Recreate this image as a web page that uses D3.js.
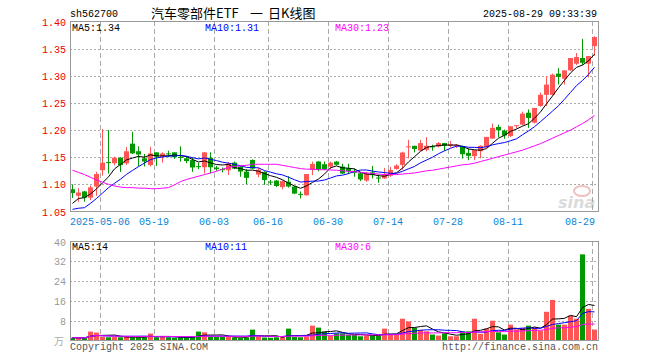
<!DOCTYPE html>
<html>
<head>
<meta charset="utf-8">
<script src="https://cdn.jsdelivr.net/npm/d3@7"></script>
<style>
body{margin:0;background:#fff;}
svg{display:block;}
text{font-family:"Liberation Mono","DejaVu Sans Mono",monospace;font-size:10px;}
</style>
</head>
<body>
<script>
//wrap everything in a self-executing function
(function(){

//trading days shown (88 sessions)
var dates = ["04-24","04-25","04-28","04-29","04-30",
    "05-06","05-07","05-08","05-09","05-12","05-13","05-14","05-15","05-16","05-19","05-20","05-21","05-22","05-23","05-26","05-27","05-28","05-29","05-30",
    "06-03","06-04","06-05","06-06","06-09","06-10","06-11","06-12","06-13","06-16","06-17","06-18","06-19","06-20","06-23","06-24","06-25","06-26","06-27","06-30",
    "07-01","07-02","07-03","07-04","07-07","07-08","07-09","07-10","07-11","07-14","07-15","07-16","07-17","07-18","07-21","07-22","07-23","07-24","07-25","07-28","07-29","07-30","07-31",
    "08-01","08-04","08-05","08-06","08-07","08-08","08-11","08-12","08-13","08-14","08-15","08-18","08-19","08-20","08-21","08-22","08-25","08-26","08-27","08-28","08-29"];

//daily prices
var opens = [1.091,1.079,1.087,1.0755,1.096,1.126,1.141,1.139,1.149,1.1386,1.175,1.161,1.148,1.1355,1.159,1.151,1.157,1.159,1.1505,1.148,1.1447,1.1335,1.1315,1.149,
    1.131,1.128,1.126,1.140,1.133,1.1235,1.145,1.118,1.123,1.105,1.107,1.095,1.105,1.096,1.0825,1.080,1.1265,1.142,1.137,1.1327,
    1.142,1.1327,1.1296,1.125,1.1204,1.107,1.122,1.1125,1.111,1.116,1.1285,1.1358,1.169,1.171,1.1623,1.1636,1.170,1.170,1.176,1.171,1.171,1.170,1.158,
    1.152,1.161,1.169,1.1843,1.2058,1.199,1.189,1.208,1.210,1.232,1.2137,1.2444,1.265,1.265,1.304,1.2947,1.31,1.3223,1.3327,1.3223,1.3547];
var highs = [1.100,1.093,1.088,1.098,1.123,1.202,1.200,1.151,1.150,1.169,1.197,1.170,1.156,1.169,1.159,1.159,1.162,1.159,1.170,1.152,1.150,1.140,1.159,1.159,
    1.134,1.131,1.141,1.142,1.134,1.128,1.146,1.131,1.124,1.108,1.108,1.107,1.115,1.097,1.087,1.119,1.142,1.143,1.142,1.142,
    1.143,1.138,1.138,1.129,1.123,1.123,1.134,1.118,1.130,1.132,1.137,1.160,1.182,1.171,1.182,1.187,1.173,1.178,1.176,1.180,1.174,1.171,1.166,
    1.163,1.172,1.1874,1.212,1.210,1.201,1.207,1.209,1.234,1.238,1.2407,1.269,1.299,1.304,1.314,1.31,1.3327,1.342,1.368,1.3363,1.373];
var lows = [1.075,1.068,1.068,1.071,1.079,1.116,1.120,1.135,1.123,1.136,1.156,1.133,1.133,1.133,1.134,1.140,1.150,1.147,1.142,1.139,1.123,1.128,1.120,1.120,
    1.125,1.122,1.117,1.128,1.114,1.100,1.128,1.113,1.099,1.099,1.095,1.091,1.094,1.082,1.074,1.079,1.117,1.124,1.126,1.128,
    1.135,1.119,1.119,1.114,1.106,1.105,1.111,1.103,1.110,1.114,1.127,1.127,1.148,1.159,1.162,1.161,1.162,1.168,1.162,1.168,1.167,1.1475,1.1445,
    1.1445,1.148,1.167,1.1843,1.187,1.184,1.187,1.203,1.209,1.204,1.212,1.243,1.244,1.264,1.284,1.284,1.309,1.320,1.320,1.297,1.337];
var closes = [1.084,1.085,1.0755,1.0945,1.119,1.140,1.140,1.149,1.1355,1.161,1.157,1.155,1.142,1.157,1.151,1.157,1.156,1.150,1.1495,1.143,1.131,1.133,1.159,1.1315,
    1.128,1.127,1.138,1.129,1.1235,1.112,1.129,1.127,1.108,1.104,1.097,1.106,1.096,1.083,1.082,1.119,1.1376,1.128,1.128,1.140,
    1.136,1.120,1.1247,1.1215,1.109,1.120,1.117,1.112,1.117,1.1265,1.1346,1.1586,1.170,1.165,1.176,1.171,1.169,1.176,1.171,1.174,1.173,1.1555,1.1525,
    1.163,1.171,1.1874,1.204,1.1997,1.190,1.207,1.209,1.2303,1.2223,1.2407,1.265,1.2837,1.302,1.298,1.31,1.3327,1.3345,1.324,1.3363,1.3713];
//closes before the first session (read back from where MA5/MA10 start)
var prevCloses = [1.065,1.0655,1.0145,1.029,1.041,1.040,1.068,1.0605,1.0725];
//30-day average
var ma30Values = [1.126,1.122,1.118,1.113,1.108,1.104,1.100,1.097,1.095,1.094,1.094,1.093,1.093,1.092,1.092,1.093,1.094,1.099,1.105,1.109,1.112,1.115,1.118,1.121,
    1.124,1.128,1.131,1.133,1.134,1.135,1.137,1.137,1.137,1.137,1.137,1.135,1.133,1.131,1.129,1.128,1.128,1.127,1.127,1.1265,
    1.126,1.125,1.124,1.1235,1.122,1.121,1.120,1.119,1.118,1.118,1.118,1.119,1.120,1.121,1.123,1.125,1.126,1.128,1.130,1.132,1.134,1.136,1.137,
    1.139,1.142,1.145,1.148,1.151,1.154,1.157,1.160,1.163,1.167,1.171,1.175,1.180,1.185,1.190,1.195,1.200,1.206,1.212,1.219,1.227];

//volume (10k lots)
var volumes = [1.1,1.1,1.0,3.6,3.2,1.5,1.3,1.4,1.3,1.5,1.3,1.3,1.3,2.8,1.3,1.5,1.3,1.1,1.3,1.3,1.3,3.6,3.3,1.5,
    1.4,1.5,1.5,1.3,1.1,1.2,4.4,1.6,1.2,1.1,1.3,1.3,4.8,1.4,1.3,1.6,6.0,5.2,3.5,1.9,
    2.9,2.9,2.3,2.3,1.7,2.0,2.0,2.0,4.8,2.3,2.3,8.8,7.7,5.1,4.3,3.7,2.4,2.0,2.9,1.7,1.7,3.7,3.7,
    8.8,2.7,4.8,8.0,3.3,2.4,6.4,4.5,5.1,6.0,5.3,4.0,11.6,16.4,6.4,6.4,10.0,8.8,34.8,12.8,4.4];

//axis ticks and labels
var priceTicks = [1.05,1.10,1.15,1.20,1.25,1.30,1.35,1.40];
var volTicks = [0,8,16,24,32,40];
var dateTicks = ["05-06","05-19","06-03","06-16","06-30","07-14","07-28","08-11","08-29"];
var priceLegend = ["MA5:1.34","MA10:1.31","MA30:1.23"];
var volLegend = ["MA5:14","MA10:11","MA30:6"];
var maColors = ["#000000","#0000ff","#ff00ff"];

var width = 660,
    height = 360,
    left = 70,
    right = 598;

var svg = d3.select("body")
    .append("svg")
    .attr("width", width)
    .attr("height", height);

//scales
var x = d3.scaleBand()
    .domain(dates)
    .range([left, right]);
var y = d3.scaleLinear()
    .domain([1.05, 1.40])
    .range([211.5, 21.5]);
var yv = d3.scaleLinear()
    .domain([0, 40])
    .range([340.5, 241.5]);

//moving average of a series, with earlier values prepended
function movingAvg(values, n, before){
    var all = before.concat(values);
    return values.map(function(v, i){
        var end = i + before.length + 1,
            start = Math.max(0, end - n),
            win = all.slice(start, end);
        return d3.mean(win);
    });
}
var ma5 = movingAvg(closes, 5, prevCloses),
    ma10 = movingAvg(closes, 10, prevCloses);
var vma5 = movingAvg(volumes, 5, []),
    vma10 = movingAvg(volumes, 10, []),
    vma30 = movingAvg(volumes, 30, []);

//header
svg.append("text").attr("x", 70).attr("y", 17).attr("fill", "#000").text("sh562700");
var cjk = "'Noto Sans CJK SC',sans-serif";
[["汽车零部件ETF", 151], ["一", 250], ["日K线图", 268]].forEach(function(t){
    svg.append("text").attr("x", t[1]).attr("y", 18)
        .style("font-family", cjk).style("font-size", "13px")
        .attr("fill", "#000").text(t[0]);
});
svg.append("text").attr("x", 597).attr("y", 17).attr("text-anchor", "end")
    .attr("fill", "#000").text("2025-08-29 09:33:39");

//grid for both panels
function hGrid(scale, ticks){
    svg.selectAll(null)
        .data(ticks.slice(1, -1))
        .enter()
        .append("line")
        .attr("x1", left).attr("x2", right)
        .attr("y1", function(d){ return Math.round(scale(d)) + 0.5; })
        .attr("y2", function(d){ return Math.round(scale(d)) + 0.5; })
        .attr("stroke", "#aaa")
        .attr("stroke-dasharray", "2,2");
}
hGrid(y, priceTicks);
hGrid(yv, volTicks);

[[21, 211], [241, 340]].forEach(function(r){
    svg.selectAll(null)
        .data(dateTicks)
        .enter()
        .append("line")
        .attr("x1", function(d){ return x(d) + 0.5; })
        .attr("x2", function(d){ return x(d) + 0.5; })
        .attr("y1", r[0]).attr("y2", r[1])
        .attr("stroke", "#aaa")
        .attr("stroke-dasharray", "5,3");
});

//watermark
var mark = svg.append("g").attr("opacity", 0.35);
mark.append("ellipse").attr("cx", 582).attr("cy", 191).attr("rx", 8).attr("ry", 5)
    .attr("fill", "none").attr("stroke", "#d05050").attr("stroke-width", 2);
mark.append("text").attr("x", 558).attr("y", 208)
    .style("font-family", "'DejaVu Sans',sans-serif").style("font-size", "16px")
    .style("font-weight", "bold").style("font-style", "italic")
    .attr("fill", "#999").text("sina");

//candles
var candles = svg.append("g");
dates.forEach(function(d, i){
    var up = closes[i] >= opens[i],
        col = up ? "#ff5555" : "#009a00",
        x0 = x(d);
    candles.append("rect")
        .attr("x", x0 + 2).attr("width", 1)
        .attr("y", y(highs[i])).attr("height", Math.max(1, y(lows[i]) - y(highs[i])))
        .attr("fill", col);
    var top = y(Math.max(opens[i], closes[i])),
        bot = y(Math.min(opens[i], closes[i]));
    candles.append("rect")
        .attr("x", x0).attr("width", 5)
        .attr("y", top).attr("height", Math.max(1, bot - top))
        .attr("fill", col);
});

//price moving averages
var line = d3.line()
    .x(function(d, i){ return x(dates[i]) + 2.5; })
    .y(function(d){ return y(d); });
[ma5, ma10, ma30Values].forEach(function(s, k){
    svg.append("path").datum(s)
        .attr("d", line)
        .attr("fill", "none")
        .attr("stroke", maColors[k])
        .attr("stroke-width", 1);
});

//volume bars
svg.selectAll(".vol")
    .data(volumes)
    .enter()
    .append("rect")
    .attr("class", "vol")
    .attr("x", function(d, i){ return x(dates[i]); })
    .attr("width", 5)
    .attr("y", function(d){ return yv(d); })
    .attr("height", function(d){ return yv(0) - yv(d); })
    .attr("fill", function(d, i){ return closes[i] >= opens[i] ? "#ff5555" : "#009a00"; });

var vline = d3.line()
    .x(function(d, i){ return x(dates[i]) + 2.5; })
    .y(function(d){ return yv(d); });
[vma5, vma10, vma30].forEach(function(s, k){
    svg.append("path").datum(s)
        .attr("d", vline)
        .attr("fill", "none")
        .attr("stroke", maColors[k])
        .attr("stroke-width", 1);
});

//panel frames
[[21, 211], [241, 340]].forEach(function(r){
    svg.append("rect")
        .attr("x", left + 0.5).attr("y", r[0] + 0.5)
        .attr("width", right - left).attr("height", r[1] - r[0])
        .attr("fill", "none")
        .attr("stroke", "#999");
});

//price labels
svg.selectAll(".plab")
    .data(priceTicks)
    .enter()
    .append("text")
    .attr("x", 66).attr("y", function(d){ return y(d) + 4; })
    .attr("text-anchor", "end")
    .attr("fill", "#ee0000")
    .text(function(d){ return d.toFixed(2); });

//volume labels
svg.selectAll(".vlab")
    .data(volTicks.slice(1))
    .enter()
    .append("text")
    .attr("x", 66).attr("y", function(d){ return yv(d) + 4; })
    .attr("text-anchor", "end")
    .attr("fill", "#999")
    .text(function(d){ return d; });
svg.append("text").attr("x", 64).attr("y", 345).attr("text-anchor", "end")
    .style("font-family", cjk).style("font-size", "10px")
    .attr("fill", "#aaa").text("万");

//date labels
dateTicks.forEach(function(d, i){
    var t = svg.append("text")
        .attr("y", 225)
        .attr("fill", "#0a84d6");
    if (i == 0){
        t.attr("x", left).text("2025-" + d);
    } else if (i == dateTicks.length - 1){
        t.attr("x", 595).attr("text-anchor", "end").text(d);
    } else {
        t.attr("x", x(d)).attr("text-anchor", "middle").text(d);
    }
});

//legends
var legendX = [72, 205, 335];
priceLegend.forEach(function(s, k){
    svg.append("text").attr("x", legendX[k]).attr("y", 31).attr("fill", maColors[k]).text(s);
});
volLegend.forEach(function(s, k){
    svg.append("text").attr("x", legendX[k]).attr("y", 250).attr("fill", maColors[k]).text(s);
});

//footer
svg.append("text").attr("x", 70).attr("y", 350).attr("fill", "#555")
    .text("Copyright 2025 SINA.COM");
svg.append("text").attr("x", 598).attr("y", 350).attr("text-anchor", "end").attr("fill", "#555")
    .text("http://finance.sina.com.cn");

})();
</script>
</body>
</html>
